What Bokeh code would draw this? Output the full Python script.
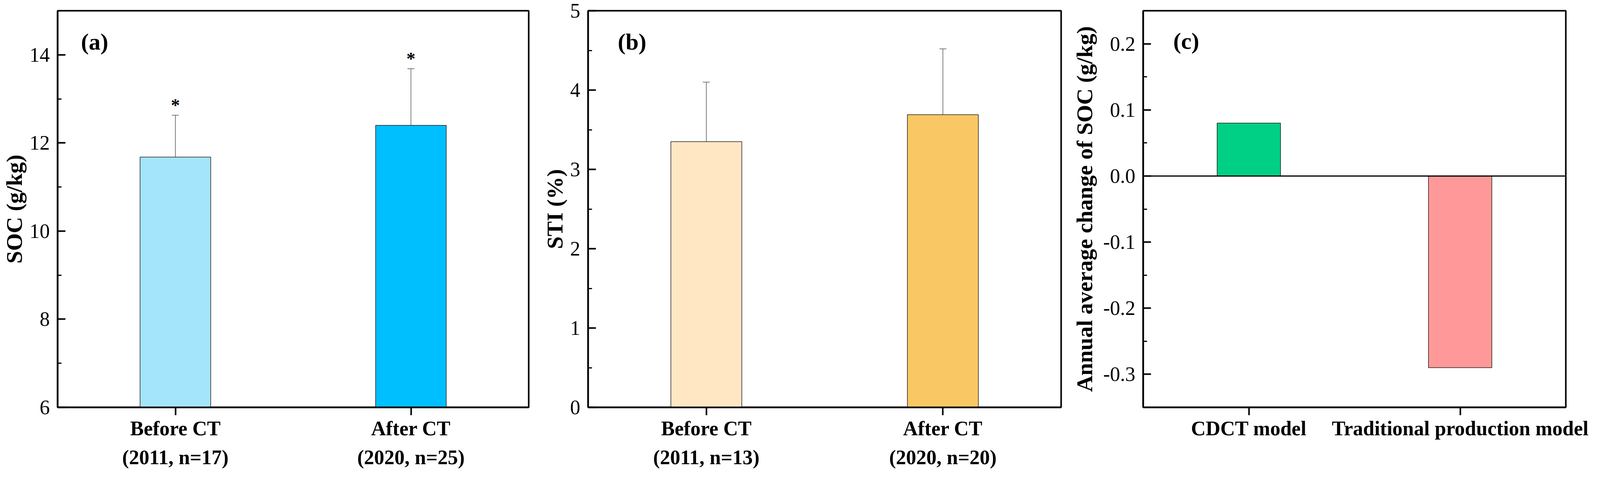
from bokeh.plotting import figure
from bokeh.models import (FixedTicker, Whisker, TeeHead, ColumnDataSource, Span,
                          Label, Range1d)
from bokeh.layouts import row
from bokeh.core.properties import value
from bokeh.embed import file_html
from bokeh.resources import INLINE

# ---------------- data ----------------
a_labels = ["Before CT\n(2011, n=17)", "After CT\n(2020, n=25)"]
a_mean = [11.68, 12.40]
a_sd = [0.95, 1.285]
a_sig = ["*", "*"]
a_colors = ["#A5E5FC", "#00BFFF"]
a_yticks = [6, 8, 10, 12, 14]
a_yminor = [7, 9, 11, 13]

b_labels = ["Before CT\n(2011, n=13)", "After CT\n(2020, n=20)"]
b_mean = [3.35, 3.69]
b_sd = [0.75, 0.83]
b_colors = ["#FFE7C4", "#F9C865"]
b_yticks = [0, 1, 2, 3, 4, 5]
b_yminor = [0.5, 1.5, 2.5, 3.5, 4.5]

c_labels = ["CDCT model", "Traditional production model"]
c_vals = [0.08, -0.29]
c_colors = ["#00D086", "#FF9999"]
c_yticks = [-0.3, -0.2, -0.1, 0.0, 0.1, 0.2]
c_ytick_labels = ["-0.3", "-0.2", "-0.1", "0.0", "0.1", "0.2"]
c_yminor = [-0.35, -0.25, -0.15, -0.05, 0.05, 0.15, 0.25]

SERIF = "Liberation Serif"


def make_fig(ylo, yhi, fw, fh, bl, br, bt, bb, ylabel, xlabels, yticks, yminor,
             ylabels=None, label_standoff=4):
    p = figure(width=bl + fw + br, height=bt + fh + bb,
               min_border_left=bl, min_border_right=br,
               min_border_top=bt, min_border_bottom=bb,
               x_range=Range1d(0.5, 2.5), y_range=Range1d(ylo, yhi),
               output_backend="svg", toolbar_location=None)
    p.background_fill_color = "white"
    p.border_fill_color = "white"
    p.grid.visible = False
    p.outline_line_color = "black"
    p.outline_line_width = 4
    p.outline_line_alpha = 1.0

    ya = p.yaxis[0]
    ya.ticker = FixedTicker(ticks=yticks, minor_ticks=yminor)
    if ylabels is not None:
        ya.major_label_overrides = {t: l for t, l in zip(yticks, ylabels)}
    ya.axis_line_width = 4
    ya.major_tick_in = 20
    ya.major_tick_out = 0
    ya.minor_tick_in = 10
    ya.minor_tick_out = 0
    ya.major_tick_line_width = 4
    ya.minor_tick_line_width = 3
    ya.major_label_standoff = 20
    ya.major_label_text_font = SERIF
    ya.major_label_text_font_size = "52px"
    ya.major_label_text_color = "black"
    ya.axis_label = ylabel
    ya.axis_label_text_font = SERIF
    ya.axis_label_text_font_style = "bold"
    ya.axis_label_text_font_size = "58px"
    ya.axis_label_text_color = "black"
    ya.axis_label_standoff = label_standoff

    xa = p.xaxis[0]
    xa.ticker = FixedTicker(ticks=[1, 2], minor_ticks=[])
    xa.major_label_overrides = {1: xlabels[0], 2: xlabels[1]}
    xa.axis_line_width = 4
    xa.major_tick_in = 0
    xa.major_tick_out = 20
    xa.major_tick_line_width = 4
    xa.minor_tick_in = 0
    xa.minor_tick_out = 0
    xa.major_label_standoff = 5
    xa.major_label_text_font = SERIF
    xa.major_label_text_font_style = "bold"
    xa.major_label_text_font_size = "52px"
    xa.major_label_text_color = "black"
    xa.major_label_text_line_height = 1.3
    return p


def add_tag(p, text, inset_x, inset_y, fw, fh):
    x0, x1 = p.x_range.start, p.x_range.end
    y0, y1 = p.y_range.start, p.y_range.end
    lx = x0 + inset_x * (x1 - x0) / fw
    ly = y1 - inset_y * (y1 - y0) / fh
    p.add_layout(Label(x=lx, y=ly, text=text, text_font=SERIF,
                       text_font_style="bold", text_font_size="60px",
                       text_baseline="middle", text_align="left",
                       text_color="black"))


def add_bars_err(p, means, sds, colors, sig=None):
    up = [m + s for m, s in zip(means, sds)]
    lo = [m - s for m, s in zip(means, sds)]
    src = ColumnDataSource(dict(x=[1, 2], top=means, upper=up, lower=lo,
                                color=colors, sig=sig if sig else ["", ""]))
    p.vbar(x="x", top="top", bottom=p.y_range.start, width=0.3, source=src,
           fill_color="color", line_color="#222222", line_width=1.5)
    w = Whisker(base="x", upper="upper", lower="lower", source=src,
                line_color="#555555", line_width=1.5,
                upper_head=TeeHead(size=18, line_color="#555555", line_width=1.5),
                lower_head=TeeHead(size=18, line_color="#555555", line_width=1.5))
    p.add_layout(w)
    if sig:
        p.text(x="x", y="upper", text="sig", source=src,
               text_font=value(SERIF), text_font_style="bold",
               text_font_size="46px", text_align="center",
               text_baseline="bottom", text_color="black")


# ---- panel (a)
FWA, FHA = 1211, 1020
pa = make_fig(6, 15, FWA, FHA, 142, 10, 22, 173, "SOC (g/kg)", a_labels,
              a_yticks, a_yminor)
add_bars_err(pa, a_mean, a_sd, a_colors, a_sig)
add_tag(pa, "(a)", 60, 80, FWA, FHA)

# ---- panel (b)
FWB, FHB = 1211, 1018
pb = make_fig(0, 5, FWB, FHB, 142, 10, 27, 170, "STI (%)", b_labels,
              b_yticks, b_yminor)
add_bars_err(pb, b_mean, b_sd, b_colors)
add_tag(pb, "(b)", 76, 80, FWB, FHB)

# ---- panel (c)
FWC, FHC = 1082, 1033
pc = make_fig(-0.35, 0.25, FWC, FHC, 200, 80, 23, 159,
              "Annual average change of SOC (g/kg)", c_labels,
              c_yticks, c_yminor, c_ytick_labels, label_standoff=12)
src_c = ColumnDataSource(dict(x=[1, 2], top=c_vals, color=c_colors))
pc.vbar(x="x", top="top", bottom=0, width=0.3, source=src_c,
        fill_color="color", line_color="#222222", line_width=1.5)
pc.add_layout(Span(location=0, dimension="width", line_color="black",
                   line_width=3))
add_tag(pc, "(c)", 77, 79, FWC, FHC)

layout = row(pa, pb, pc)
open("out.html", "w").write(file_html(layout, INLINE))
